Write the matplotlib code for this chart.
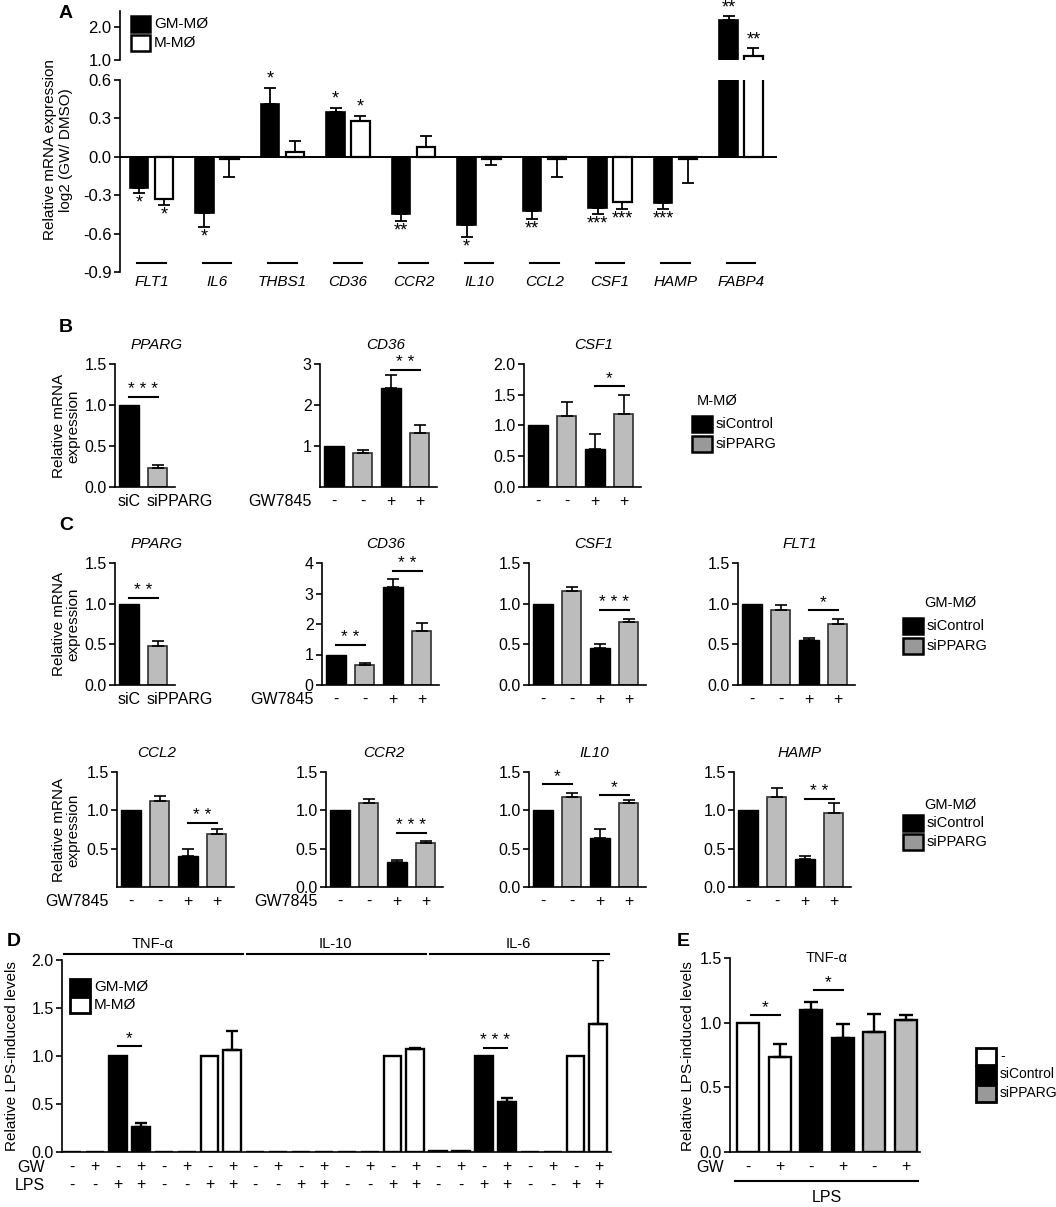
import matplotlib
matplotlib.use("Agg")
import matplotlib.pyplot as plt
from matplotlib.patches import Rectangle
import numpy as np

W, H = 1056, 1207
plt.rcParams["font.family"] = ["Liberation Sans", "DejaVu Sans"]
plt.rcParams["font.size"] = 10

GRAY = "#bcbcbc"
TICK_FS = 11.5
TXT_FS = 10.5

# ---------------- data ----------------
# A: log2(GW/DMSO), GM-MØ (black) and M-MØ (white)
genes_a = ["FLT1", "IL6", "THBS1", "CD36", "CCR2", "IL10", "CCL2", "CSF1", "HAMP", "FABP4"]
gm_a = [-0.24, -0.44, 0.41, 0.35, -0.45, -0.53, -0.42, -0.40, -0.36, 2.22]
gm_a_err = [0.045, 0.11, 0.13, 0.035, 0.05, 0.10, 0.068, 0.05, 0.048, 0.12]
gm_a_sig = ["*", "*", "*", "*", "**", "*", "**", "***", "***", "**"]
m_a = [-0.33, -0.015, 0.036, 0.28, 0.076, -0.015, -0.015, -0.35, -0.015, 1.12]
m_a_err = [0.045, 0.145, 0.085, 0.04, 0.09, 0.05, 0.14, 0.06, 0.19, 0.24]
m_a_sig = ["*", "", "", "*", "", "", "", "***", "", "**"]

# B: M-MØ, siControl / siPPARG
b_pparg, b_pparg_err = [1.0, 0.23], [0, 0.035]
b_cd36, b_cd36_err = [1.0, 0.84, 2.42, 1.32], [0, 0.07, 0.30, 0.18]
b_csf1, b_csf1_err = [1.0, 1.15, 0.62, 1.19], [0, 0.24, 0.24, 0.30]

# C: GM-MØ, siControl / siPPARG
c_pparg, c_pparg_err = [1.0, 0.48], [0, 0.06]
c_cd36, c_cd36_err = [1.0, 0.66, 3.2, 1.78], [0, 0.05, 0.27, 0.24]
c_csf1, c_csf1_err = [1.0, 1.15, 0.45, 0.77], [0, 0.05, 0.05, 0.04]
c_flt1, c_flt1_err = [1.0, 0.92, 0.55, 0.75], [0, 0.06, 0.03, 0.06]
c_ccl2, c_ccl2_err = [1.0, 1.12, 0.41, 0.69], [0, 0.07, 0.08, 0.07]
c_ccr2, c_ccr2_err = [1.0, 1.09, 0.32, 0.58], [0, 0.06, 0.03, 0.02]
c_il10, c_il10_err = [1.0, 1.18, 0.64, 1.10], [0, 0.05, 0.12, 0.03]
c_hamp, c_hamp_err = [1.0, 1.18, 0.36, 0.97], [0, 0.11, 0.05, 0.12]

gw_signs = ["-", "-", "+", "+"]
si_labels = ["siC", "siPPARG"]

# D: relative LPS-induced levels, 3 cytokines x (4 GM-MØ + 4 M-MØ)
cytokines_d = ["TNF-\u03b1", "IL-10", "IL-6"]
d_gm = [[0, 0, 1.0, 0.26], [0, 0, 0, 0], [0.01, 0.01, 1.0, 0.52]]
d_gm_err = [[0, 0, 0, 0.04], [0, 0, 0, 0], [0, 0, 0, 0.04]]
d_m = [[0, 0, 1.0, 1.06], [0, 0, 1.0, 1.07], [0, 0, 1.0, 1.33]]
d_m_err = [[0, 0, 0, 0.20], [0, 0, 0, 0.01], [0, 0, 0, 0.67]]
d_gw = ["-", "+", "-", "+"]
d_lps = ["-", "-", "+", "+"]

# E: TNF-α, none / siControl / siPPARG
e_vals = [1.0, 0.735, 1.095, 0.88, 0.93, 1.02]
e_err = [0, 0.10, 0.065, 0.11, 0.14, 0.04]
e_gw = ["-", "+", "-", "+", "-", "+"]

fig = plt.figure(figsize=(W / 100, H / 100), dpi=100)


def px_ax(x0, y0, x1, y1):
    return fig.add_axes([x0 / W, 1 - y1 / H, (x1 - x0) / W, (y1 - y0) / H])


def ftext(x, y, s, **kw):
    kw.setdefault("ha", "center")
    kw.setdefault("va", "center")
    fig.text(x / W, 1 - y / H, s, **kw)


def legend_patch(x, y, label, face, w=20, h=16, lw=1.8, fs=TXT_FS):
    fig.add_artist(Rectangle((x / W, 1 - (y + h / 2) / H), w / W, h / H,
                             facecolor=face, edgecolor="black", lw=lw,
                             transform=fig.transFigure))
    ftext(x + w + 4, y, label, ha="left", fontsize=fs)


def style(ax, bottom=True, fs=TICK_FS):
    for side in ("top", "right"):
        ax.spines[side].set_visible(False)
    ax.spines["bottom"].set_visible(bottom)
    for side in ("left", "bottom"):
        ax.spines[side].set_linewidth(1.2)
    ax.tick_params(axis="y", direction="out", length=4, width=1.2, pad=2, labelsize=fs)
    ax.tick_params(axis="x", length=0, labelsize=TICK_FS, pad=5)
    ax.patch.set_visible(False)


def err(ax, x, v, e, lw=1.3, cap=4):
    if e <= 0:
        return
    yerr = [[0], [e]] if v >= 0 else [[e], [0]]
    ax.errorbar([x], [v], yerr=yerr, fmt="none", ecolor="black",
                elinewidth=lw, capsize=cap, capthick=lw)


def sig(ax, x0, x1, y, stars, fs=12.5):
    ax.plot([x0, x1], [y, y], color="black", lw=1.5, clip_on=False)
    ax.annotate(stars, xy=((x0 + x1) / 2, y), xytext=(0, 0), textcoords="offset points",
                ha="center", va="bottom", fontsize=fs)


# ---------------- panel A ----------------
ftext(66, 14, "A", fontsize=14, fontweight="bold")
xa = np.arange(len(genes_a))
off, bw = 0.19, 0.28
axA_top = px_ax(120, 11, 777, 60)
axA = px_ax(120, 80, 777, 272)
for ax in (axA_top, axA):
    style(ax, bottom=False, fs=12)
    ax.bar(xa - off, gm_a, bw, color="black", edgecolor="black", lw=1.2)
    ax.bar(xa + off, m_a, bw, color="white", edgecolor="black", lw=1.6)
    for i in xa:
        err(ax, i - off, gm_a[i], gm_a_err[i])
        err(ax, i + off, m_a[i], m_a_err[i])
    ax.set_xlim(-0.48, 9.55)
    ax.set_xticks([])
axA_top.set_ylim(1.0, 2.5)
axA_top.set_yticks([1.0, 2.0])
axA_top.set_yticklabels(["1.0", "2.0"])
axA.set_ylim(-0.9, 0.6)
axA.set_yticks([-0.9, -0.6, -0.3, 0.0, 0.3, 0.6])
axA.set_yticklabels(["-0.9", "-0.6", "-0.3", "0.0", "0.3", "0.6"])
axA.axhline(0, color="black", lw=1.4)

for i in xa:
    for xpos, v, e, s in ((i - off, gm_a[i], gm_a_err[i], gm_a_sig[i]),
                          (i + off, m_a[i], m_a_err[i], m_a_sig[i])):
        if not s:
            continue
        target = axA_top if v > 1.0 else axA
        if v >= 0:
            target.annotate(s, xy=(xpos, v + e), xytext=(0, 0), textcoords="offset points",
                            ha="center", va="bottom", fontsize=13)
        else:
            target.annotate(s, xy=(xpos, v - e), xytext=(0, -1), textcoords="offset points",
                            ha="center", va="top", fontsize=13)
    axA.plot([i - 0.22, i + 0.22], [-0.83, -0.83], color="black", lw=1.5)
    axA.text(i, -0.92, genes_a[i], ha="center", va="top", style="italic", fontsize=11)

legend_patch(131, 24, "GM-M\u00d8", "black", w=19, h=16, fs=11)
legend_patch(131, 43, "M-M\u00d8", "white", w=19, h=16, fs=11)
ftext(58, 150, "Relative mRNA expression\nlog2 (GW/ DMSO)", rotation=90, fontsize=11,
      linespacing=1.1)


# ---------------- panels B and C ----------------
def bar_panel(spine_x, y_top, y_bot, vals, errs, ylim, yticks, ylabels, title, title_x,
              xlabels, gw=False, sigs=()):
    n = len(vals)
    sp = 28.5
    first = spine_x + 14
    right = first + (n - 1) * sp + 17
    ax = px_ax(spine_x, y_top, right, y_bot)
    style(ax)
    xs = np.arange(n)
    for i in xs:
        if i % 2 == 0:
            ax.bar(i, vals[i], 0.7, color="black", edgecolor="black", lw=1)
        else:
            ax.bar(i, vals[i], 0.7, color=GRAY, edgecolor="#303030", lw=1.2)
        err(ax, i, vals[i], errs[i], lw=1.2, cap=4)
    ax.set_xlim(-14 / sp, (right - first) / sp)
    ax.set_ylim(*ylim)
    ax.set_yticks(yticks)
    ax.set_yticklabels(ylabels)
    ax.set_xticks(xs)
    if xlabels == si_labels:
        ax.set_xticklabels([])
        tr = ax.get_xaxis_transform()
        ax.annotate(xlabels[0], xy=(0, 0), xycoords=tr, xytext=(0, -5),
                    textcoords="offset points", ha="center", va="top", fontsize=TICK_FS)
        ax.annotate(xlabels[1], xy=(0.62, 0), xycoords=tr, xytext=(0, -5),
                    textcoords="offset points", ha="left", va="top", fontsize=TICK_FS)
    else:
        ax.set_xticklabels(xlabels)
    for a, b, y, s in sigs:
        sig(ax, a, b, y, s)
    if gw:
        ax.annotate("GW7845", xy=(-14 / sp, 0), xycoords=ax.get_xaxis_transform(),
                    xytext=(-6, -5), textcoords="offset points", ha="right", va="top",
                    fontsize=TICK_FS)
    ftext(title_x, y_top - 19, title, style="italic", fontsize=11)
    return ax


def mrna_label(y):
    ftext(66, y, "Relative mRNA\nexpression", rotation=90, fontsize=11, linespacing=1.05)


lab15 = ["0.0", "0.5", "1.0", "1.5"]
ftext(66, 328, "B", fontsize=14, fontweight="bold")
bar_panel(115, 364, 487, b_pparg, b_pparg_err, (0, 1.5), [0, 0.5, 1.0, 1.5], lab15,
          "PPARG", 157, si_labels, sigs=[(0, 1, 1.1, "* * *")])
bar_panel(320, 364, 487, b_cd36, b_cd36_err, (0, 3), [1, 2, 3], ["1", "2", "3"],
          "CD36", 386, gw_signs, gw=True, sigs=[(2, 3, 2.85, "* *")])
bar_panel(524, 364, 487, b_csf1, b_csf1_err, (0, 2.0), [0, 0.5, 1.0, 1.5, 2.0],
          lab15 + ["2.0"], "CSF1", 594, gw_signs, sigs=[(2, 3, 1.64, "*")])
mrna_label(426)
ftext(717, 401, "M-M\u00d8", fontsize=TXT_FS)
legend_patch(692, 424, "siControl", "black")
legend_patch(692, 444, "siPPARG", "#999999")

ftext(66, 526, "C", fontsize=14, fontweight="bold")
bar_panel(115, 563, 685, c_pparg, c_pparg_err, (0, 1.5), [0, 0.5, 1.0, 1.5], lab15,
          "PPARG", 157, si_labels, sigs=[(0, 1, 1.07, "* *")])
bar_panel(322, 563, 685, c_cd36, c_cd36_err, (0, 4), [0, 1, 2, 3, 4],
          ["0", "1", "2", "3", "4"], "CD36", 386, gw_signs, gw=True,
          sigs=[(0, 1, 1.32, "* *"), (2, 3, 3.75, "* *")])
bar_panel(529, 563, 685, c_csf1, c_csf1_err, (0, 1.5), [0, 0.5, 1.0, 1.5], lab15,
          "CSF1", 594, gw_signs, sigs=[(2, 3, 0.92, "* * *")])
bar_panel(738, 563, 685, c_flt1, c_flt1_err, (0, 1.5), [0, 0.5, 1.0, 1.5], lab15,
          "FLT1", 800, gw_signs, sigs=[(2, 3, 0.92, "*")])
mrna_label(624)
ftext(950, 603, "GM-M\u00d8", fontsize=TXT_FS)
legend_patch(903, 626, "siControl", "black")
legend_patch(903, 646, "siPPARG", "#999999")

bar_panel(117, 772, 887, c_ccl2, c_ccl2_err, (0, 1.5), [0.5, 1.0, 1.5], lab15[1:],
          "CCL2", 157, gw_signs, gw=True, sigs=[(2, 3, 0.84, "* *")])
bar_panel(326, 772, 887, c_ccr2, c_ccr2_err, (0, 1.5), [0, 0.5, 1.0, 1.5], lab15,
          "CCR2", 384, gw_signs, gw=True, sigs=[(2, 3, 0.71, "* * *")])
bar_panel(529, 772, 887, c_il10, c_il10_err, (0, 1.5), [0, 0.5, 1.0, 1.5], lab15,
          "IL10", 594, gw_signs, sigs=[(0, 1, 1.34, "*"), (2, 3, 1.20, "*")])
bar_panel(734, 772, 887, c_hamp, c_hamp_err, (0, 1.5), [0, 0.5, 1.0, 1.5], lab15,
          "HAMP", 800, gw_signs, sigs=[(2, 3, 1.15, "* *")])
mrna_label(830)
ftext(950, 805, "GM-M\u00d8", fontsize=TXT_FS)
legend_patch(903, 823, "siControl", "black")
legend_patch(903, 842, "siPPARG", "#999999")

# ---------------- panel D ----------------
ftext(14, 942, "D", fontsize=14, fontweight="bold")
axD = px_ax(62, 960, 611, 1152)
style(axD)
d_vals, d_errs, d_cols, d_gws, d_lpss = [], [], [], [], []
for g in range(3):
    d_vals += d_gm[g] + d_m[g]
    d_errs += d_gm_err[g] + d_m_err[g]
    d_cols += ["black"] * 4 + ["white"] * 4
    d_gws += d_gw * 2
    d_lpss += d_lps * 2
xd = np.arange(len(d_vals))
axD.bar(xd, d_vals, 0.78, color=d_cols, edgecolor="black", lw=1.7)
for i in xd:
    err(axD, i, d_vals[i], d_errs[i], lw=1.7, cap=4)
axD.set_xlim(-0.45, 23.55)
axD.set_ylim(0, 2.0)
axD.set_yticks([0, 0.5, 1.0, 1.5, 2.0])
axD.set_yticklabels(["0.0", "0.5", "1.0", "1.5", "2.0"])
axD.set_xticks([])
tr = axD.get_xaxis_transform()
hD = 1152 - 960
for i in xd:
    axD.text(i, -15 / hD, d_gws[i], transform=tr, ha="center", va="center", fontsize=TICK_FS)
    axD.text(i, -33 / hD, d_lpss[i], transform=tr, ha="center", va="center", fontsize=TICK_FS)
axD.text(-1.2, -15 / hD, "GW", transform=tr, ha="right", va="center", fontsize=TICK_FS)
axD.text(-1.2, -33 / hD, "LPS", transform=tr, ha="right", va="center", fontsize=TICK_FS)
for g, name in enumerate(cytokines_d):
    axD.plot([8 * g - 0.35, 8 * g + 7.45], [1 + 6 / hD] * 2, transform=tr, color="black",
             lw=1.5, clip_on=False)
    axD.text(8 * g + 3.5, 1 + 16 / hD, name, transform=tr, ha="center", va="center",
             fontsize=TXT_FS)
sig(axD, 2, 3, 1.10, "*")
sig(axD, 18, 19, 1.08, "* * *")
legend_patch(70, 987, "GM-M\u00d8", "black", w=20, h=16, lw=2, fs=11)
legend_patch(70, 1005, "M-M\u00d8", "white", w=20, h=16, lw=2, fs=11)
ftext(12, 1056, "Relative LPS-induced levels", rotation=90, fontsize=11)

# ---------------- panel E ----------------
ftext(683, 942, "E", fontsize=14, fontweight="bold")
axE = px_ax(730, 958, 920, 1152)
style(axE)
xe = np.arange(len(e_vals))
e_cols = ["white", "white", "black", "black", GRAY, GRAY]
axE.bar(xe, e_vals, 0.7, color=e_cols, edgecolor="black", lw=1.7)
for i in xe:
    err(axE, i, e_vals[i], e_err[i], lw=1.7, cap=5)
axE.set_xlim(-0.57, 5.45)
axE.set_ylim(0, 1.5)
axE.set_yticks([0, 0.5, 1.0, 1.5])
axE.set_yticklabels(["0.0", "0.5", "1.0", "1.5"])
axE.set_xticks([])
trE = axE.get_xaxis_transform()
hE = 1152 - 958
for i in xe:
    axE.text(i, -15 / hE, e_gw[i], transform=trE, ha="center", va="center", fontsize=TICK_FS)
axE.text(-0.75, -15 / hE, "GW", transform=trE, ha="right", va="center", fontsize=TICK_FS)
axE.plot([-0.4, 5.4], [-29 / hE] * 2, transform=trE, color="black", lw=1.5, clip_on=False)
axE.text(2.5, -46 / hE, "LPS", transform=trE, ha="center", va="center", fontsize=TICK_FS)
axE.text(2.5, 1.5, "TNF-\u03b1", ha="center", va="center", fontsize=TXT_FS)
sig(axE, 0.1, 1.0, 1.06, "*")
sig(axE, 2.1, 3.0, 1.25, "*")
legend_patch(976, 1056, "-", "white", w=20, h=17, lw=2, fs=10)
legend_patch(976, 1074, "siControl", "black", w=20, h=17, lw=2, fs=10)
legend_patch(976, 1093, "siPPARG", "#999999", w=20, h=17, lw=2, fs=10)
ftext(688, 1056, "Relative LPS-induced levels", rotation=90, fontsize=11)

fig.savefig("out.png", dpi=100)
